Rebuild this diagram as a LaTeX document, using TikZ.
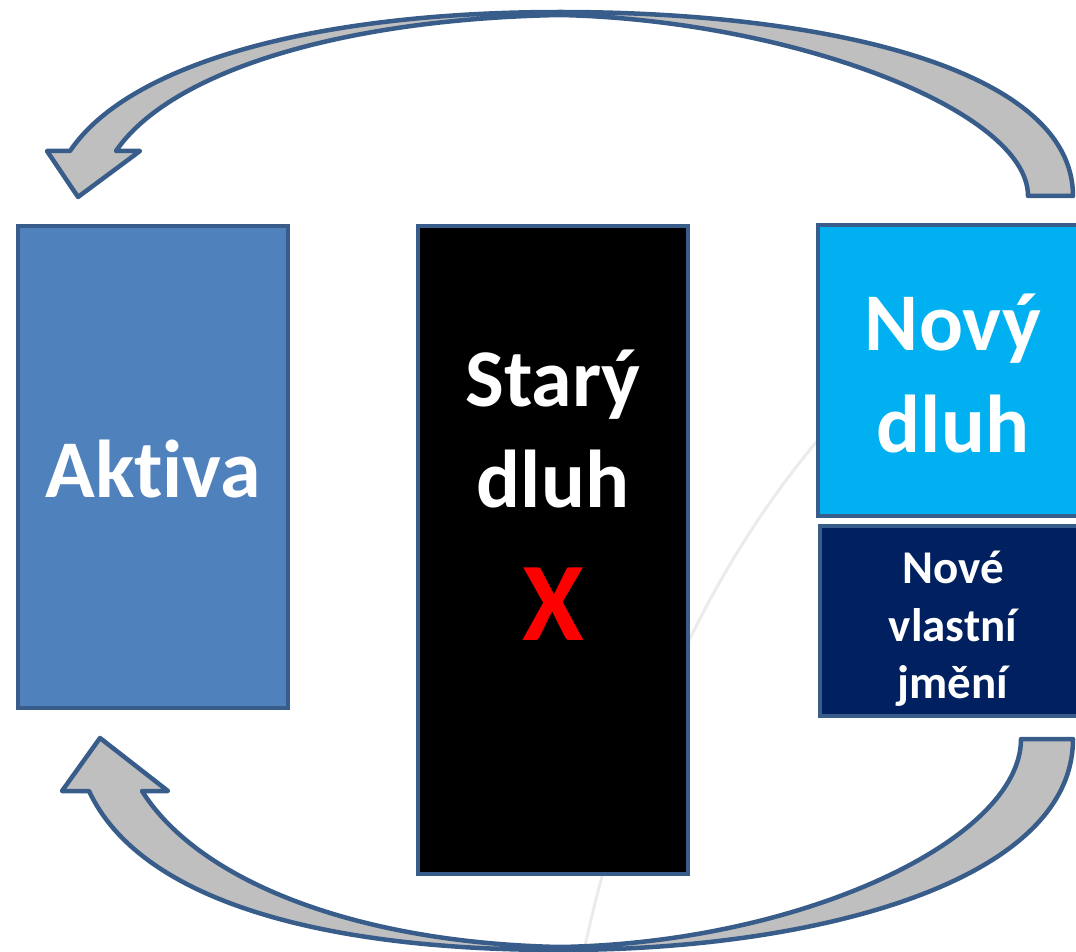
\documentclass[tikz,border=0pt]{standalone}
\usepackage{fontspec}
\setmainfont[Ligatures=NoCommon]{Carlito}
\definecolor{edge}{HTML}{385D8A}
\definecolor{assetblue}{HTML}{4F81BD}
\definecolor{newdebt}{HTML}{00B0F0}
\definecolor{equity}{HTML}{002060}
\definecolor{arrowgray}{HTML}{BFBFBF}
\definecolor{faint}{HTML}{EBEBEB}
\tikzset{
  block/.style={draw=edge, line width=4pt, rectangle, inner sep=0pt},
  bigtxt/.style={text=white, anchor=base, inner sep=0pt, font=\fontsize{82}{100}\selectfont\bfseries},
  smalltxt/.style={text=white, anchor=base, inner sep=0pt, font=\fontsize{47}{57}\selectfont\bfseries},
  bentarrow/.style={draw=edge, fill=arrowgray, line width=4.5pt, line join=round}
}
\begin{document}
\begin{tikzpicture}[x=1pt, y=-1pt]
\useasboundingbox (0,0) rectangle (1076,952);

% faint background arc
\draw[faint, line width=3pt] (583,955) .. controls (625,760) and (700,580) .. (818,440);

% upper curved arrow (right to left)
\draw[bentarrow] (1073,196) .. controls (1073,70) and (830,12) .. (560,12)
  .. controls (320,12) and (130,62) .. (70,151) -- (47,151) -- (78,197) -- (140,151) -- (116,151)
  .. controls (170,72) and (340,19) .. (560,15)
  .. controls (790,20) and (1028,110) .. (1028,196) -- cycle;

% lower curved arrow (right to left)
\draw[bentarrow] (1073,739) .. controls (1073,880) and (820,950) .. (560,950)
  .. controls (320,950) and (140,900) .. (89,791) -- (62,791) -- (100,738) -- (168,791) -- (142,791)
  .. controls (200,883) and (360,943) .. (560,947)
  .. controls (800,943) and (1021,840) .. (1021,739) -- cycle;

% balance sheet blocks
\node[block, fill=assetblue, minimum width=270pt, minimum height=482pt] (aktiva) at (153,467) {};
\node[block, fill=black, minimum width=270pt, minimum height=648pt] (stary) at (553,550) {};
\node[block, fill=newdebt, minimum width=272pt, minimum height=291pt] (novy) at (954,370.5) {};
\node[block, fill=equity, minimum width=270pt, minimum height=190pt] (vlastni) at (955,621) {};

% labels
\node[bigtxt] (taktiva) at (153,497) {Aktiva};
\node[bigtxt] (tstary1) at (553,406) {Starý};
\node[bigtxt] (tstary2) at (553,507) {dluh};
\node[text=red, anchor=base, inner sep=0pt, font=\fontsize{112}{130}\selectfont\bfseries] (tx) at (553,640) {X};
\node[bigtxt] (tnovy1) at (953,350) {Nový};
\node[bigtxt] (tnovy2) at (953,452) {dluh};
\node[smalltxt] (tvl1) at (953,583) {Nové};
\node[smalltxt] (tvl2) at (953,641) {vlastní};
\node[smalltxt] (tvl3) at (953,698) {jmění};
\end{tikzpicture}
\end{document}
